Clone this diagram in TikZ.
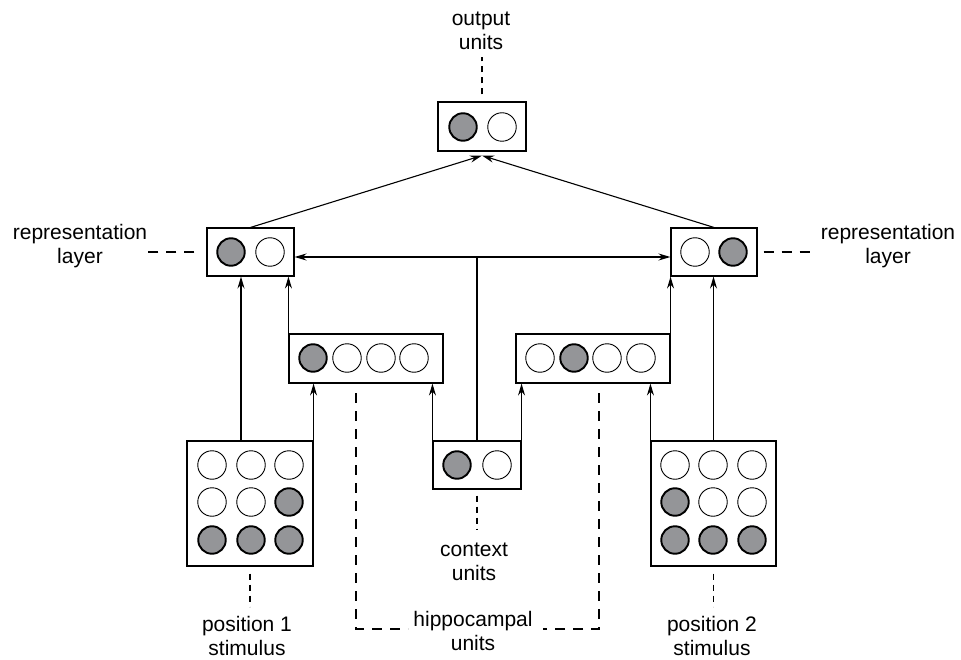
\documentclass[tikz,border=0pt]{standalone}
\usepackage{fontspec}
\setmainfont{Liberation Sans}
\usetikzlibrary{arrows.meta,calc}
\definecolor{unitgray}{RGB}{148,149,152}
\begin{document}
\begin{tikzpicture}[x=1pt,y=-1pt,
  box/.style={draw,line width=1.1pt,inner sep=0pt},
  gu/.style={circle,draw,fill=unitgray,line width=1.9pt,minimum size=27.5pt,inner sep=0pt},
  wu/.style={circle,draw,fill=white,line width=0.9pt,minimum size=28.5pt,inner sep=0pt},
  arr/.style={line width=1.1pt,-{Stealth[length=12pt,width=7pt,inset=4pt]}},
  barr/.style={line width=1.1pt,{Stealth[length=12pt,width=7pt,inset=4pt]}-{Stealth[length=12pt,width=7pt,inset=4pt]}},
  conn/.style={line width=1.1pt},
  dsh/.style={line width=1.3pt,dash pattern=on 10pt off 8pt},
  dshs/.style={line width=1.3pt,dash pattern=on 6pt off 5pt},
  lbl/.style={align=center,font=\fontsize{21}{24.5}\selectfont,inner sep=0pt}]
\useasboundingbox (0,0) rectangle (961,660);

% boxes
\node[box,minimum width=88pt,minimum height=49pt] (out) at (482,126.5) {};
\node[box,minimum width=87pt,minimum height=48pt] (repL) at (250.5,252) {};
\node[box,minimum width=86pt,minimum height=48pt] (repR) at (714,252) {};
\node[box,minimum width=154pt,minimum height=49pt] (hipL) at (366,358.5) {};
\node[box,minimum width=154pt,minimum height=49pt] (hipR) at (593,358.5) {};
\node[box,minimum width=88pt,minimum height=48pt] (ctx) at (477,465) {};
\node[box,minimum width=126pt,minimum height=125pt] (stL) at (250,503.5) {};
\node[box,minimum width=125pt,minimum height=125pt] (stR) at (713.5,503.5) {};

% units
\node[gu] (o1) at (463,127) {};
\node[wu] (o2) at (502,127) {};
\node[gu] (rl1) at (231,252) {};
\node[wu] (rl2) at (270,252) {};
\node[wu] (rr1) at (695,252) {};
\node[gu] (rr2) at (733,252) {};
\node[gu] (hl1) at (313,358) {};
\node[wu] (hl2) at (347,358) {};
\node[wu] (hl3) at (381,358) {};
\node[wu] (hl4) at (414,358) {};
\node[wu] (hr1) at (540,358) {};
\node[gu] (hr2) at (574,358) {};
\node[wu] (hr3) at (607,358) {};
\node[wu] (hr4) at (641,358) {};
\node[gu] (c1) at (457,465) {};
\node[wu] (c2) at (497,465) {};
% stimulus left
\node[wu] (sl11) at (212,465) {};
\node[wu] (sl12) at (251,465) {};
\node[wu] (sl13) at (289,465) {};
\node[wu] (sl21) at (212,502) {};
\node[wu] (sl22) at (251,502) {};
\node[gu] (sl23) at (289,502) {};
\node[gu] (sl31) at (212,540) {};
\node[gu] (sl32) at (251,540) {};
\node[gu] (sl33) at (289,540) {};
% stimulus right
\node[wu] (sr11) at (675,465) {};
\node[wu] (sr12) at (713,465) {};
\node[wu] (sr13) at (752,465) {};
\node[gu] (sr21) at (675,502) {};
\node[wu] (sr22) at (713,502) {};
\node[wu] (sr23) at (752,502) {};
\node[gu] (sr31) at (675,540) {};
\node[gu] (sr32) at (713,540) {};
\node[gu] (sr33) at (752,540) {};

% connectors
\draw[arr] (repL.north) -- ([yshift=-4pt]out.south);
\draw[arr] (repR.north) -- ([yshift=-4pt]out.south);
\draw[barr] ([yshift=-5pt]repL.east) -- ([yshift=-5pt]repR.west);
\coordinate (hb) at ($(ctx.north |- repL.east)+(0,5)$);
\draw[conn] (ctx.north) -- (hb);
\draw[arr] ([xshift=-9pt]stL.north) -- ([xshift=-9pt]stL.north |- repL.south);
\draw[arr] (hipL.north west) -- (hipL.north west |- repL.south);
\draw[arr] (stL.north east) -- (stL.north east |- hipL.south);
\draw[arr] (ctx.north west) -- (ctx.north west |- hipL.south);
\draw[arr] (ctx.north east) -- (ctx.north east |- hipR.south);
\draw[arr] (stR.north west) -- (stR.north west |- hipR.south);
\draw[arr] (stR.north) -- (stR.north |- repR.south);
\draw[arr] (hipR.north east) -- (hipR.north east |- repR.south);

% labels
\node[lbl] (tOut) at (481,31) {output\\units};
\node[lbl] (tRepL) at (80,246) {representation\\layer};
\node[lbl] (tRepR) at (888,246) {representation\\layer};
\node[lbl] (tCtx) at (474,562) {context\\units};
\node[lbl] (tHip) at (473,631) {hippocampal\\units};
\node[lbl] (tStL) at (247,636) {position 1\\stimulus};
\node[lbl] (tStR) at (712,636) {position 2\\stimulus};

% dashed label lines
\draw[dshs] ([yshift=7pt]out.north) -- ++(0,-37);
\draw[dsh] ([xshift=-12pt]repL.west) -- ++(-52,0);
\draw[dsh] ([xshift=6pt]repR.east) -- ++(52,0);
\draw[dshs] ([yshift=-6pt]ctx.south) -- ++(0,34);
\draw[dshs] ([yshift=-7pt]stL.south) -- ++(0,33);
\draw[dshs] ([yshift=-7pt]stR.south) -- ++(0,33);
\draw[dsh] (356,393) -- (356,629) -- (408,629);
\draw[dsh] (599,393) -- (599,629) -- (543,629);
\end{tikzpicture}
\end{document}
